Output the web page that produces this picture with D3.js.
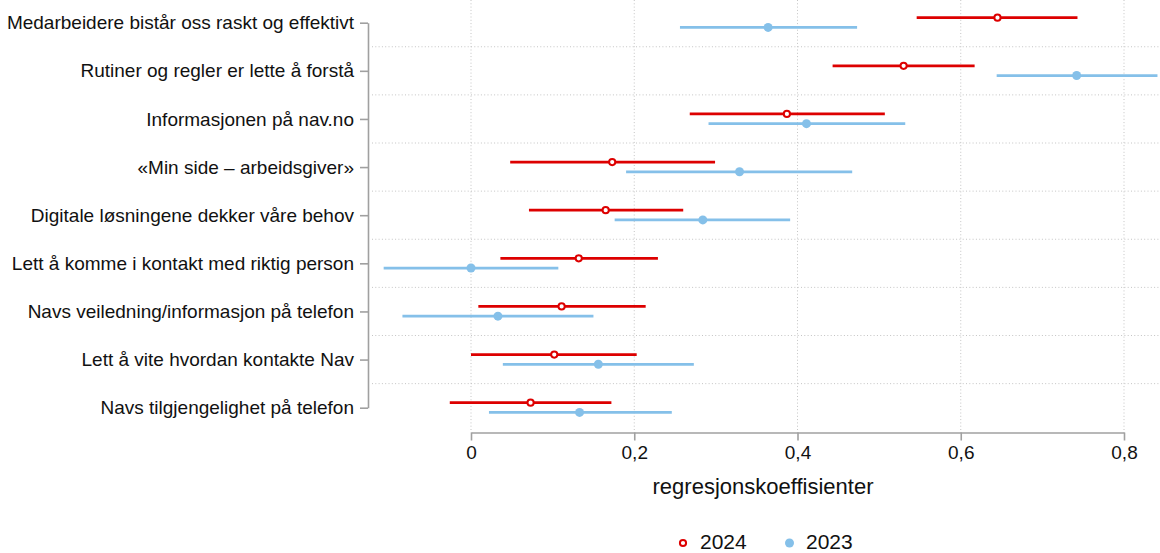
<!DOCTYPE html>
<html><head><meta charset="utf-8">
<script src="https://cdn.jsdelivr.net/npm/d3@7"></script>
<style>
body{margin:0;background:#fff;}
text{font-family:"Liberation Sans",Arial,Helvetica,sans-serif;fill:#111;}
</style></head>
<body><svg id="c" width="1160" height="553"></svg>
<script>
const categories = [
  "Medarbeidere bistår oss raskt og effektivt",
  "Rutiner og regler er lette å forstå",
  "Informasjonen på nav.no",
  "«Min side – arbeidsgiver»",
  "Digitale løsningene dekker våre behov",
  "Lett å komme i kontakt med riktig person",
  "Navs veiledning/informasjon på telefon",
  "Lett å vite hvordan kontakte Nav",
  "Navs tilgjengelighet på telefon"
];
const est2024 = [0.645, 0.530, 0.387, 0.173, 0.165, 0.132, 0.111, 0.102, 0.073];
const lo2024  = [0.546, 0.443, 0.268, 0.048, 0.071, 0.036, 0.009, 0.000, -0.026];
const hi2024  = [0.743, 0.617, 0.507, 0.299, 0.260, 0.229, 0.214, 0.203, 0.172];
const est2023 = [0.364, 0.742, 0.411, 0.329, 0.284, 0.000, 0.033, 0.156, 0.133];
const lo2023  = [0.256, 0.644, 0.291, 0.190, 0.176, -0.107, -0.084, 0.039, 0.022];
const hi2023  = [0.473, 0.841, 0.532, 0.467, 0.391, 0.107, 0.150, 0.273, 0.246];
const xTicks = [0, 0.2, 0.4, 0.6, 0.8];
const seriesNames = ["2024", "2023"];
const colors = {"2024": "#dd0000", "2023": "#85c0e9"};

const svg = d3.select("#c");
const x = d3.scaleLinear().domain([0, 0.8]).range([471, 1124]);
const y = d3.scalePoint().domain(categories).range([22.7, 407.7]);
const plotLeft = 372, plotRight = 1160, plotTop = 0, plotBottom = 432.5;

// vertical dotted gridlines
svg.append("g").selectAll("line").data(xTicks).join("line")
  .attr("x1", d => x(d)).attr("x2", d => x(d))
  .attr("y1", plotTop).attr("y2", plotBottom)
  .attr("stroke", "#c4c4c4").attr("stroke-width", 1).attr("stroke-dasharray", "1 2.3");

// horizontal dotted gridlines between categories
const mids = categories.slice(1).map((c, i) => (y(c) + y(categories[i])) / 2);
svg.append("g").selectAll("line").data(mids).join("line")
  .attr("x1", plotLeft).attr("x2", plotRight)
  .attr("y1", d => d).attr("y2", d => d)
  .attr("stroke", "#c4c4c4").attr("stroke-width", 1).attr("stroke-dasharray", "1 2.3");

// left axis
const gy = svg.append("g").attr("transform", "translate(368,0)")
  .call(d3.axisLeft(y).tickSize(8).tickSizeOuter(0).tickPadding(6));
gy.select(".domain").attr("stroke", "#a0a0a0").attr("stroke-width", 1.6);
gy.selectAll(".tick line").attr("stroke", "#a0a0a0").attr("stroke-width", 1.6);
gy.selectAll(".tick text").style("font-size", "19px").style("font-family", "'Liberation Sans',Arial,sans-serif").attr("fill", "#111");

// bottom axis
const gx = svg.append("g").attr("transform", `translate(0,${plotBottom})`)
  .call(d3.axisBottom(x).tickValues(xTicks).tickSize(8).tickSizeOuter(0).tickPadding(5)
    .tickFormat(d => d === 0 ? "0" : d3.format(".1f")(d).replace(".", ",")));
gx.select(".domain").attr("stroke", "#a0a0a0").attr("stroke-width", 1.6);
gx.selectAll(".tick line").attr("stroke", "#a0a0a0").attr("stroke-width", 1.6);
gx.selectAll(".tick text").style("font-size", "19px").style("font-family", "'Liberation Sans',Arial,sans-serif").attr("fill", "#111");

svg.append("text").attr("x", 763).attr("y", 494).attr("text-anchor", "middle")
  .style("font-size", "22px").text("regresjonskoeffisienter");

// data
const rows = categories.map((c, i) => ({c, e4: est2024[i], l4: lo2024[i], h4: hi2024[i], e3: est2023[i], l3: lo2023[i], h3: hi2023[i]}));
const off4 = -5, off3 = 4.7;
const g = svg.append("g");
g.selectAll(".ci3").data(rows).join("line")
  .attr("x1", d => x(d.l3)).attr("x2", d => x(d.h3))
  .attr("y1", d => y(d.c) + off3).attr("y2", d => y(d.c) + off3)
  .attr("stroke", colors["2023"]).attr("stroke-width", 2.7);
g.selectAll(".ci4").data(rows).join("line")
  .attr("x1", d => x(d.l4)).attr("x2", d => x(d.h4))
  .attr("y1", d => y(d.c) + off4).attr("y2", d => y(d.c) + off4)
  .attr("stroke", colors["2024"]).attr("stroke-width", 2.7);
g.selectAll(".p3").data(rows).join("circle")
  .attr("cx", d => x(d.e3)).attr("cy", d => y(d.c) + off3).attr("r", 4.5)
  .attr("fill", colors["2023"]);
g.selectAll(".p4").data(rows).join("circle")
  .attr("cx", d => x(d.e4)).attr("cy", d => y(d.c) + off4).attr("r", 3.1)
  .attr("fill", "#fff").attr("stroke", colors["2024"]).attr("stroke-width", 2);

// legend
const leg = svg.append("g");
const legPos = [{name: "2024", cx: 683, tx: 700}, {name: "2023", cx: 789.5, tx: 806}];
legPos.forEach(p => {
  if (p.name === "2024") {
    leg.append("circle").attr("cx", p.cx).attr("cy", 543).attr("r", 3.1)
      .attr("fill", "#fff").attr("stroke", colors[p.name]).attr("stroke-width", 2);
  } else {
    leg.append("circle").attr("cx", p.cx).attr("cy", 543).attr("r", 4.5).attr("fill", colors[p.name]);
  }
  leg.append("text").attr("x", p.tx).attr("y", 549).style("font-size", "21px").text(p.name);
});
</script></body></html>
